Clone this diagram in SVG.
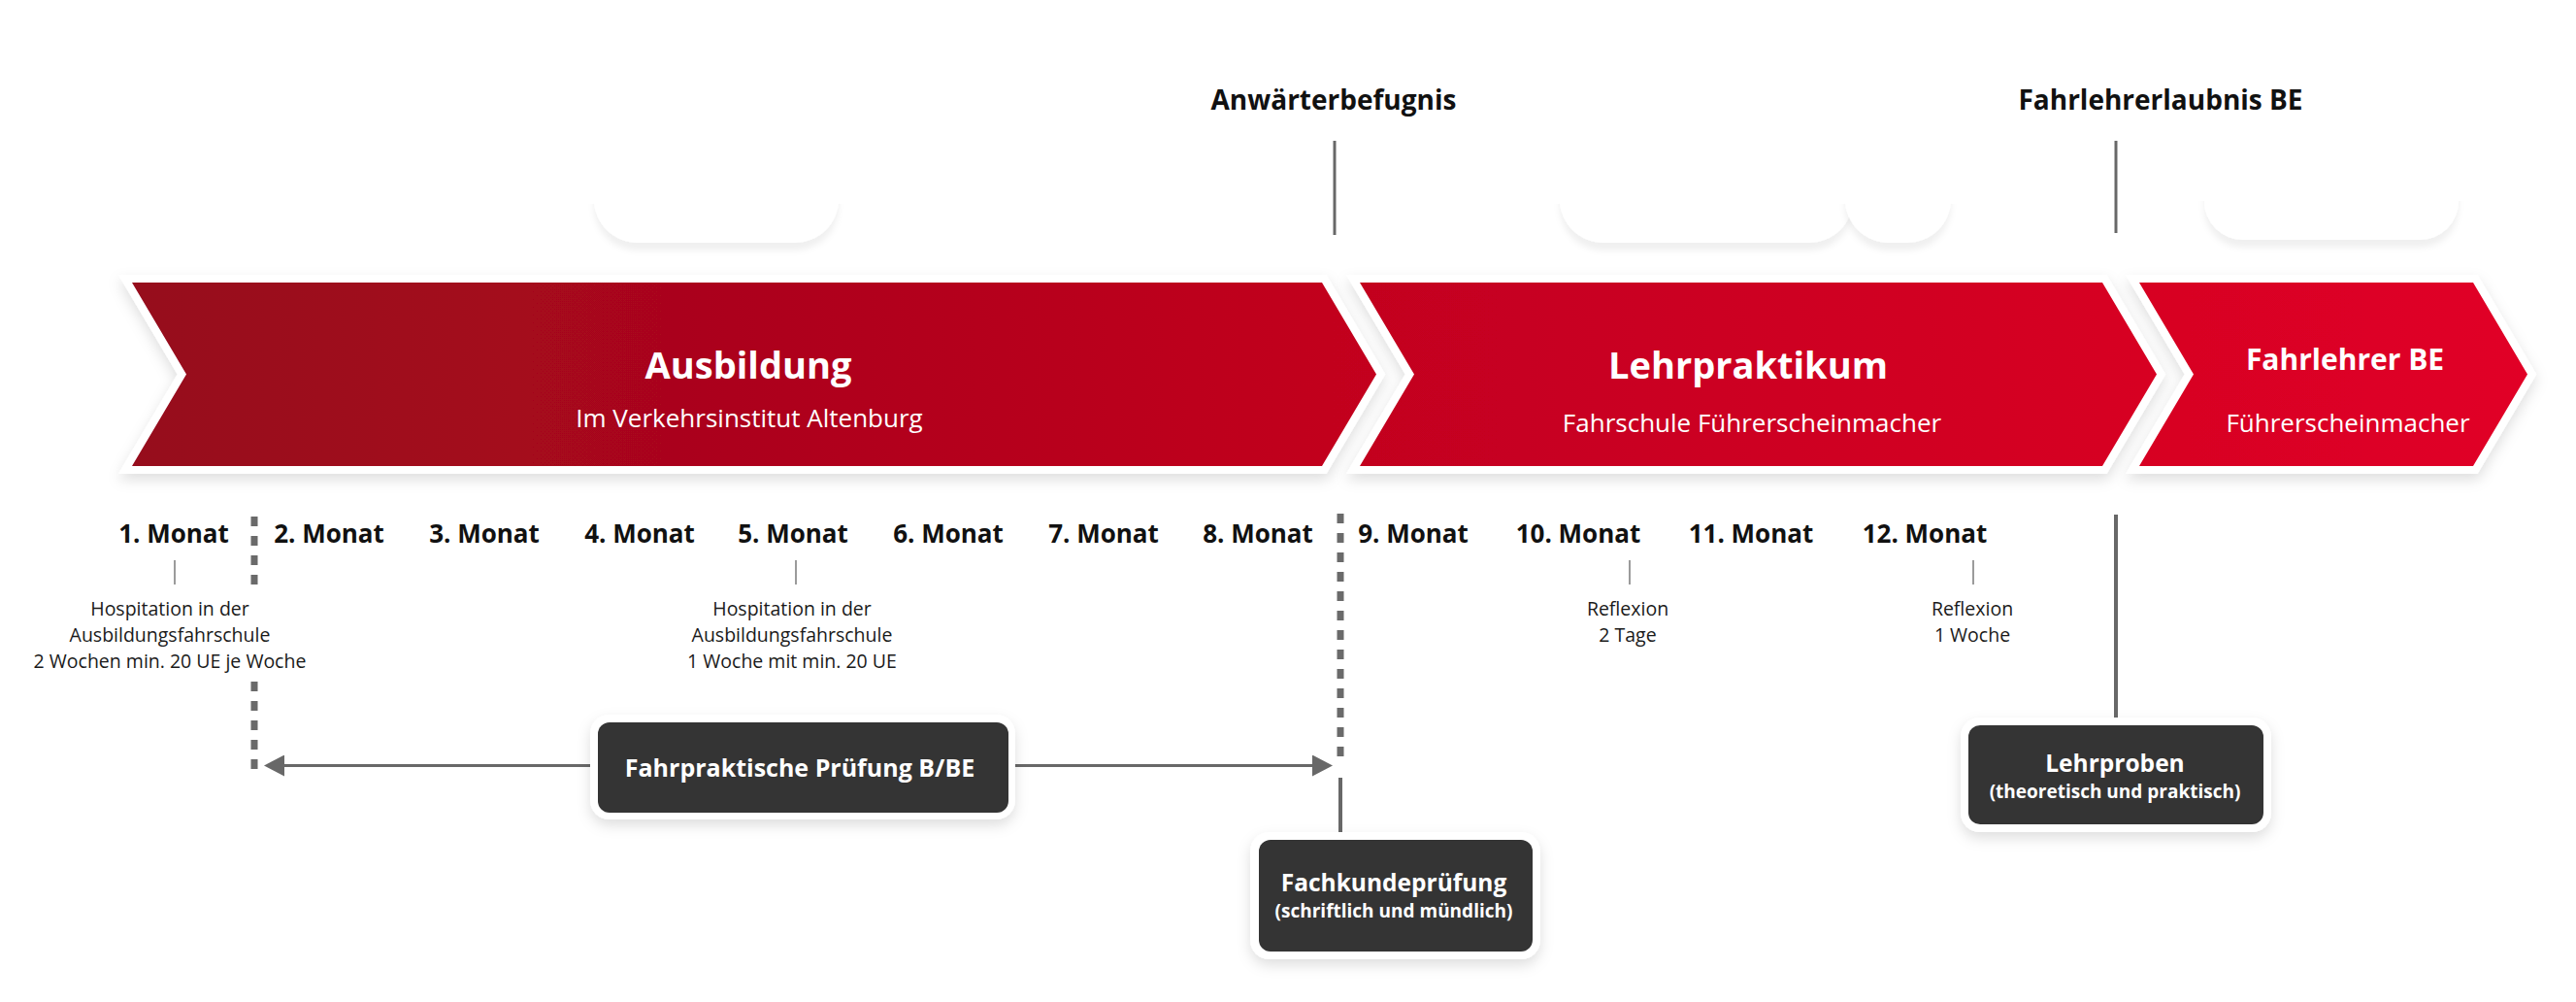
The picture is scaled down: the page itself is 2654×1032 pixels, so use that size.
<svg xmlns="http://www.w3.org/2000/svg" width="2654" height="1032" viewBox="0 0 2654 1032">
  <style>
    .lbl { font-family: "Open Sans", "Liberation Sans", sans-serif; }
    .top { font-size: 28px; font-weight: 700; fill: #111; text-anchor: middle; }
    .ttl { font-size: 38px; font-weight: 700; fill: #fff; text-anchor: middle; }
    .sub { font-size: 26px; font-weight: 400; fill: #fff; text-anchor: middle; }
    .mon { font-size: 26px; font-weight: 700; fill: #111; text-anchor: middle; }
    .note { font-size: 19.5px; font-weight: 400; fill: #1a1a1a; text-anchor: middle; }
    .bt { font-size: 24.5px; font-weight: 700; fill: #fff; text-anchor: middle; }
    .bs { font-size: 19px; font-weight: 700; fill: #fff; text-anchor: middle; }
    .chev { fill: url(#red); stroke: #fff; stroke-width: 16; stroke-linejoin: miter; paint-order: stroke; }
    .outer { fill: #fff; }
    .inner { fill: #343434; }
    .ghost { fill: #fff; }
    .ln { stroke: #686868; fill: none; }
    .tick { stroke: #7a7a7a; stroke-width: 1.5; }
    .dash { stroke: #6a6a6a; stroke-width: 7; stroke-dasharray: 10 10; fill: none; }
  </style>
  <defs>
    <linearGradient id="red" gradientUnits="userSpaceOnUse" x1="136" y1="0" x2="2604" y2="0">
      <stop offset="0" stop-color="#960a1e"/>
      <stop offset="0.5" stop-color="#c2011f"/>
      <stop offset="1" stop-color="#e10026"/>
    </linearGradient>
    <filter id="sh" x="-10%" y="-20%" width="120%" height="150%">
      <feDropShadow dx="0" dy="6" stdDeviation="7" flood-color="#000" flood-opacity="0.13"/>
    </filter>
    <filter id="shg" x="-10%" y="0.72" width="120%" height="0.45">
      <feDropShadow dx="0" dy="8" stdDeviation="3" flood-color="#000" flood-opacity="0.06"/>
    </filter>
    <marker id="arr" viewBox="0 -11 21 22" refX="0" refY="0" markerUnits="userSpaceOnUse" markerWidth="21" markerHeight="22" orient="auto">
      <path d="M0,-11 L21,0 L0,11 z" fill="#686868"/>
    </marker>
  </defs>

  <rect width="2654" height="1032" fill="#fff"/>

  <!-- faint background cards -->
  <g id="ghosts">
    <rect class="ghost" x="612" y="110" width="252" height="140" rx="45" filter="url(#shg)"/>
    <rect class="ghost" x="1607" y="110" width="302" height="140" rx="45" filter="url(#shg)"/>
    <rect class="ghost" x="1901" y="110" width="109" height="140" rx="45" filter="url(#shg)"/>
    <rect class="ghost" x="2271" y="105" width="262" height="142" rx="40" filter="url(#shg)"/>
  </g>

  <!-- phases (chevrons) -->
  <g id="phase-ausbildung">
    <path class="chev" filter="url(#sh)" d="M136,291 L1362,291 L1418,385.5 L1362,480 L136,480 L192,385.5 Z"/>
    <text class="lbl ttl" x="771" y="390">Ausbildung</text>
    <text class="lbl sub" x="772" y="440">Im Verkehrsinstitut Altenburg</text>
  </g>
  <g id="phase-lehrpraktikum">
    <path class="chev" filter="url(#sh)" d="M1401,291 L2166,291 L2222,385.5 L2166,480 L1401,480 L1457,385.5 Z"/>
    <text class="lbl ttl" x="1801" y="390">Lehrpraktikum</text>
    <text class="lbl sub" x="1805" y="445">Fahrschule Führerscheinmacher</text>
  </g>
  <g id="phase-fahrlehrer">
    <path class="chev" filter="url(#sh)" d="M2204,291 L2548,291 L2604,385.5 L2548,480 L2204,480 L2260,385.5 Z"/>
    <text class="lbl ttl" x="2416" y="381" style="font-size:30px">Fahrlehrer BE</text>
    <text class="lbl sub" x="2419" y="445">Führerscheinmacher</text>
  </g>

  <!-- milestones -->
  <g id="milestone-anwaerter">
    <text class="lbl top" x="1374" y="113">Anwärterbefugnis</text>
  </g>
  <g id="milestone-fahrlehrerlaubnis">
    <text class="lbl top" x="2226" y="113">Fahrlehrerlaubnis BE</text>
  </g>

  <!-- months -->
  <g id="months">
    <text class="lbl mon" x="179" y="559">1. Monat</text>
    <text class="lbl mon" x="339" y="559">2. Monat</text>
    <text class="lbl mon" x="499" y="559">3. Monat</text>
    <text class="lbl mon" x="659" y="559">4. Monat</text>
    <text class="lbl mon" x="817" y="559">5. Monat</text>
    <text class="lbl mon" x="977" y="559">6. Monat</text>
    <text class="lbl mon" x="1137" y="559">7. Monat</text>
    <text class="lbl mon" x="1296" y="559">8. Monat</text>
    <text class="lbl mon" x="1456" y="559">9. Monat</text>
    <text class="lbl mon" x="1626" y="559">10. Monat</text>
    <text class="lbl mon" x="1804" y="559">11. Monat</text>
    <text class="lbl mon" x="1983" y="559">12. Monat</text>
  </g>

  <!-- notes -->
  <g id="note-hospitation-1">
    <text class="lbl note" x="175" y="634">Hospitation in der</text>
    <text class="lbl note" x="175" y="661">Ausbildungsfahrschule</text>
    <text class="lbl note" x="175" y="688">2 Wochen min. 20 UE je Woche</text>
  </g>
  <g id="note-hospitation-2">
    <text class="lbl note" x="816" y="634">Hospitation in der</text>
    <text class="lbl note" x="816" y="661">Ausbildungsfahrschule</text>
    <text class="lbl note" x="816" y="688">1 Woche mit min. 20 UE</text>
  </g>
  <g id="note-reflexion-1">
    <text class="lbl note" x="1677" y="634">Reflexion</text>
    <text class="lbl note" x="1677" y="661">2 Tage</text>
  </g>
  <g id="note-reflexion-2">
    <text class="lbl note" x="2032" y="634">Reflexion</text>
    <text class="lbl note" x="2032" y="661">1 Woche</text>
  </g>

  <!-- connectors -->
  <g id="connectors">
    <line class="ln" x1="1375" y1="145" x2="1375" y2="242" stroke-width="3"/>
    <line class="ln" x1="2180" y1="145" x2="2180" y2="240" stroke-width="3"/>
    <line class="tick" x1="180" y1="577" x2="180" y2="602"/>
    <line class="tick" x1="820" y1="577" x2="820" y2="602"/>
    <line class="tick" x1="1679" y1="577" x2="1679" y2="602"/>
    <line class="tick" x1="2033" y1="577" x2="2033" y2="602"/>
    <line class="dash" x1="262" y1="532" x2="262" y2="602"/>
    <line class="dash" x1="262" y1="702" x2="262" y2="792"/>
    <line class="dash" x1="1381" y1="529" x2="1381" y2="789"/>
    <line class="ln" x1="608" y1="788.5" x2="293" y2="788.5" stroke-width="3" marker-end="url(#arr)"/>
    <line class="ln" x1="1046" y1="788.5" x2="1352" y2="788.5" stroke-width="3" marker-end="url(#arr)"/>
    <line class="ln" x1="1381" y1="801" x2="1381" y2="858" stroke-width="4"/>
    <line class="ln" x1="2180" y1="530" x2="2180" y2="740" stroke-width="4"/>
  </g>

  <!-- boxes -->
  <g id="box-fahrpraktische">
    <rect class="outer" x="608" y="736" width="438" height="108" rx="20" filter="url(#sh)"/>
    <rect class="inner" x="616" y="744" width="423" height="93" rx="12"/>
    <text class="lbl bt" x="824" y="800" style="font-size:25px">Fahrpraktische Prüfung B/BE</text>
  </g>
  <g id="box-fachkunde">
    <rect class="outer" x="1288" y="857" width="299" height="131" rx="20" filter="url(#sh)"/>
    <rect class="inner" x="1297" y="865" width="282" height="115" rx="12"/>
    <text class="lbl bt" x="1436" y="918">Fachkundeprüfung</text>
    <text class="lbl bs" x="1436" y="945">(schriftlich und mündlich)</text>
  </g>
  <g id="box-lehrproben">
    <rect class="outer" x="2020" y="739" width="320" height="118" rx="20" filter="url(#sh)"/>
    <rect class="inner" x="2028" y="747" width="304" height="102" rx="12"/>
    <text class="lbl bt" x="2179" y="795">Lehrproben</text>
    <text class="lbl bs" x="2179" y="822">(theoretisch und praktisch)</text>
  </g>
</svg>
